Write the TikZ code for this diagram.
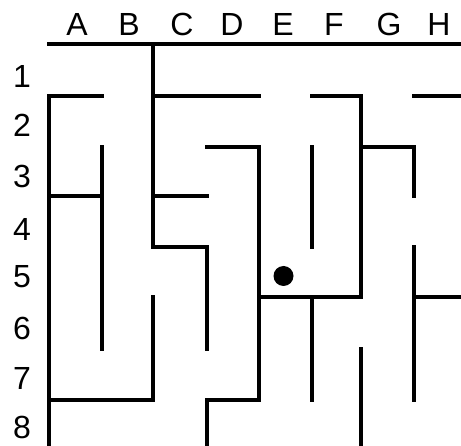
\documentclass[tikz,border=0pt]{standalone}
\usepackage{fontspec}
\setmainfont{Liberation Sans}
\begin{document}
\begin{tikzpicture}[x=1pt,y=-1pt,
  wall/.style={line width=4pt, line cap=rect, line join=miter},
  lbl/.style={font=\fontsize{32}{32}\selectfont, inner sep=0pt}]
\useasboundingbox (0,0) rectangle (461,446);
\foreach \i/\x in {0/48.5,1/101.5,2/152.5,3/206.5,4/258.5,5/311.5,6/360.5,7/414,8/461}{
  \foreach \j/\y in {0/44,1/96,2/147,3/196,4/247,5/297,6/349,7/400,8/446}{
    \coordinate (p\i\j) at (\x,\y);
  }
}
% labels
\foreach \t/\x in {A/77,B/129,C/182,D/232,E/283,F/334,G/389,H/439}
  \node[lbl] (col\t) at (\x,24) {\t};
\foreach \t/\y in {1/76,2/125,3/176,4/229,5/277,6/328,7/378,8/427}
  \node[lbl] (row\t) at (22,\y) {\t};
% walls
\draw[wall] (p00) -- (p80);
\draw[wall] (p20) -- (p24) -- (p34) -- (p36);
\draw[wall] (p11) -- (p01) -- (p08);
\draw[wall] (p21) -- (p41);
\draw[wall] (p32) -- (p42) -- (p47) -- (p37) -- (p38);
\draw[wall] (p45) -- (p65) -- (p61) -- (p51);
\draw[wall] (p66) -- (p68);
\draw[wall] (p55) -- (p57);
\draw[wall] (p74) -- (p77);
\draw[wall] (p75) -- (p85);
\draw[wall] (p71) -- (p81);
\draw[wall] (p52) -- (p54);
\draw[wall] (p12) -- (p16);
\draw[wall] (p03) -- (p13);
\draw[wall] (p23) -- (p33);
\draw[wall] (p07) -- (p27) -- (p25);
\draw[wall] (p62) -- (p72) -- (p73);
% ball
\node[circle, fill=black, minimum size=20pt, inner sep=0pt] (ball) at (283.5,276) {};
\end{tikzpicture}
\end{document}
